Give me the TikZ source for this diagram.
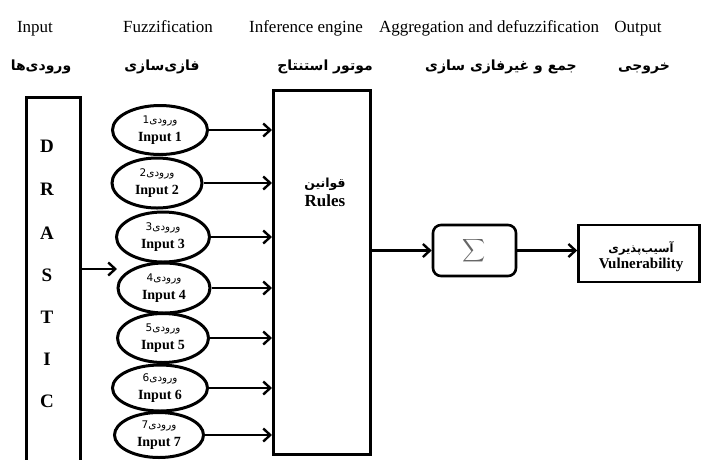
\documentclass[tikz,border=0pt]{standalone}
\usepackage{fontspec}
\usepackage{graphicx}
\setmainfont{Liberation Serif}
\newfontfamily\fa[Script=Arabic]{DejaVu Sans}
\TeXXeTstate=1
\usetikzlibrary{shapes.geometric,arrows.meta}
\tikzset{
  blk/.style={draw, line width=2.6pt, inner sep=0pt},
  fz/.style={ellipse, draw, line width=3pt, inner sep=0pt, align=center, font=\fontsize{14}{15}\selectfont},
  arr/.style={line width=2.8pt, -{Straight Barb[length=7pt,width=13pt,line width=2.4pt]}},
  hen/.style={anchor=base, font=\fontsize{17}{20}\selectfont},
  hfa/.style={anchor=base, font=\fa\bfseries\fontsize{14}{16}\selectfont},
  drl/.style={font=\bfseries\fontsize{19}{22}\selectfont},
}
\newcommand{\fzlab}[1]{{\fa\fontsize{10.5}{12}\selectfont\beginR ورودی#1\endR}\\[3pt]{\bfseries Input #1}}
\begin{document}
\begin{tikzpicture}[x=1pt,y=-1pt]
\useasboundingbox (0,0) rectangle (701,459);
\clip (0,0) rectangle (701,459);
% headers
\node[hen] (h1) at (35,32) {Input};
\node[hen] (h2) at (168,32) {Fuzzification};
\node[hen] (h3) at (306,32) {Inference engine};
\node[hen] (h4) at (489,32) {Aggregation and defuzzification};
\node[hen] (h5) at (638,32) {Output};
\node[hfa] (p1) at (41,70) {\beginR ورودی‌ها\endR};
\node[hfa] (p2) at (162,70) {\beginR فازی‌سازی\endR};
\node[hfa] (p3) at (325,70) {\beginR موتور استنتاج\endR};
\node[hfa] (p4) at (501,70) {\beginR جمع و غیرفازی سازی\endR};
\node[hfa] (p5) at (644,70) {\beginR خروجی\endR};
% DRASTIC box
\node[blk, anchor=north west, minimum width=54pt, minimum height=400pt] (DR) at (25,96) {};
\node[drl] (l1) at (47,146) {D};
\node[drl] (l2) at (47,189) {R};
\node[drl] (l3) at (47,233) {A};
\node[drl] (l4) at (47,275) {S};
\node[drl] (l5) at (47,317) {T};
\node[drl] (l6) at (47,359) {I};
\node[drl] (l7) at (47,401) {C};
% fuzzification ellipses
\node[fz, minimum width=95pt, minimum height=49pt] (e1) at (160,130) {\fzlab{1}};
\node[fz, minimum width=90pt, minimum height=50pt] (e2) at (157,183) {\fzlab{2}};
\node[fz, minimum width=93pt, minimum height=50pt] (e3) at (163,237) {\fzlab{3}};
\node[fz, minimum width=92pt, minimum height=50pt] (e4) at (164,288) {\fzlab{4}};
\node[fz, minimum width=91pt, minimum height=49pt] (e5) at (163,338) {\fzlab{5}};
\node[fz, minimum width=95pt, minimum height=46pt] (e6) at (160,388) {\fzlab{6}};
\node[fz, minimum width=89pt, minimum height=45pt] (e7) at (159,435) {\fzlab{7}};
% rules box
\node[blk, anchor=north west, minimum width=97pt, minimum height=364pt] (R) at (272,89) {};
\node[align=center] (rt) at (325,192) {{\fa\bfseries\fontsize{12.5}{14}\selectfont\beginR قوانین\endR}\\[3pt]{\bfseries\fontsize{17}{19}\selectfont Rules}};
% sigma box
\node[blk, rounded corners=8pt, minimum width=83pt, minimum height=51pt, text=black!60] (S) at (474.5,250.5) {\scalebox{1.6}{$\displaystyle\sum$}};
% output box
\node[blk, minimum width=121pt, minimum height=57pt] (O) at (639,253.5) {};
\node[align=center] (ot) at (641,257) {{\fa\bfseries\fontsize{11.5}{13}\selectfont\beginR آسیب‌پذیری\endR}\\[2pt]{\bfseries\fontsize{15}{17}\selectfont Vulnerability}};
% connectors
\coordinate (dtip) at (117,269);
\draw[arr] (DR.east |- dtip) -- (dtip);
\foreach \i in {1,...,7}{
  \draw[arr] (e\i.east) -- (e\i.east -| R.west);
}
\draw[arr] (S.west -| R.east) -- (S.west);
\draw[arr] (S.east) -- (S.east -| O.west);
\end{tikzpicture}
\end{document}
